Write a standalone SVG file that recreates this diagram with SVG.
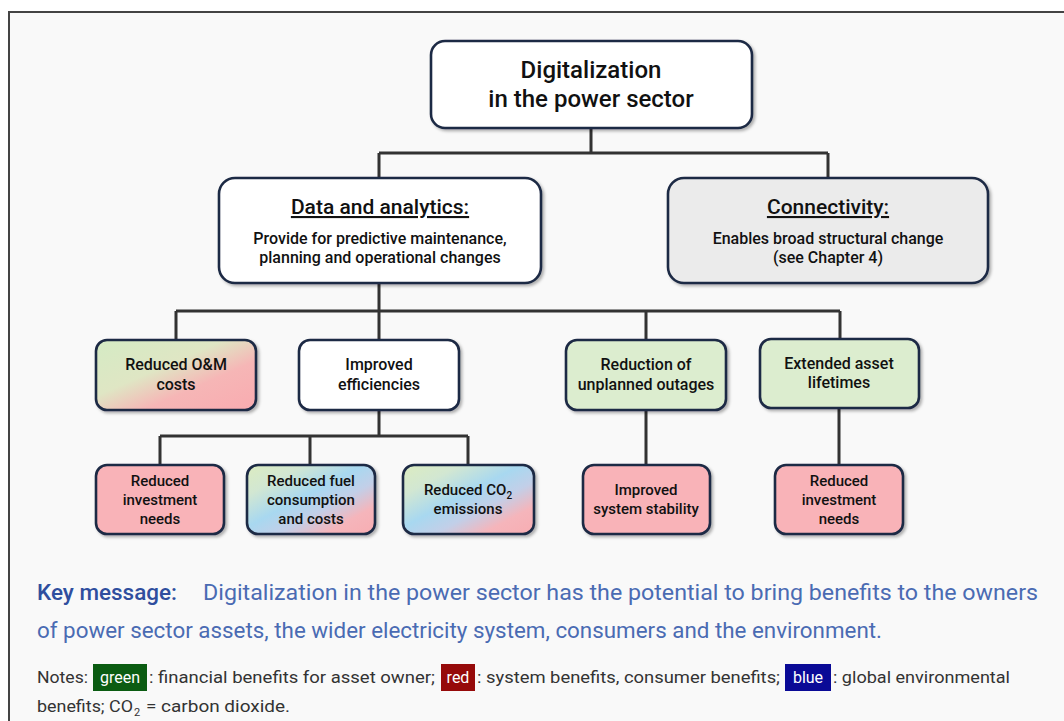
<svg xmlns="http://www.w3.org/2000/svg" width="1064" height="721" viewBox="0 0 1064 721">
<defs>
<style>
.nd{stroke:#1f2a44;stroke-width:2.6;filter:url(#sh)}
.t{font-family:"Roboto","Liberation Sans",sans-serif;fill:#111;text-anchor:middle;font-weight:500}
.lg{font-size:24px}
.hd{font-size:21px;text-decoration:underline}
.md{font-size:16px}
.sm{font-size:15px}
.cn{fill:none;stroke:#333;stroke-width:3}
.km{font-family:"Roboto","Liberation Sans",sans-serif;font-size:22px;fill:#4a6bb3}
.nt{font-family:"Roboto","Liberation Sans",sans-serif;font-size:16px;fill:#333}
</style>
<filter id="sh" x="-10%" y="-10%" width="125%" height="130%">
<feDropShadow dx="2" dy="2" stdDeviation="1.5" flood-color="#000" flood-opacity="0.3"/>
</filter>
<linearGradient id="gr" x1="0" y1="0" x2="1" y2="1">
<stop offset="0" stop-color="#d4ebc4"/>
<stop offset="0.4" stop-color="#dfe6c4"/>
<stop offset="0.65" stop-color="#f6b6b6"/>
<stop offset="1" stop-color="#f9abb0"/>
</linearGradient>
<linearGradient id="gbr" x1="0" y1="0" x2="1" y2="1">
<stop offset="0" stop-color="#dcecc0"/>
<stop offset="0.22" stop-color="#d2e7d2"/>
<stop offset="0.45" stop-color="#a8d8f0"/>
<stop offset="0.62" stop-color="#c2cfe8"/>
<stop offset="0.8" stop-color="#f5b5bb"/>
<stop offset="1" stop-color="#f8adb2"/>
</linearGradient>
</defs>
<rect x="0" y="0" width="1064" height="721" fill="#ffffff"/>
<rect x="9" y="12" width="1070" height="730" fill="#f9f9f9" stroke="#444" stroke-width="2"/>

<g id="connectors">
<path class="cn" d="M591 128 V153 M379 153 H828 M379 153 V178 M828 153 V178"/>
<path class="cn" d="M379 283 V311 M176 311 H840 M176 311 V339 M379 311 V339 M646 311 V339 M840 311 V338"/>
<path class="cn" d="M379 410 V436 M160 436 H468 M160 436 V464 M310 436 V464 M468 436 V464"/>
<path class="cn" d="M646 410 V464 M839 408 V464"/>
</g>

<g id="n-digitalization">
<rect class="nd" x="431" y="41" width="321" height="87" rx="14" fill="#fff"/>
<text class="t lg" x="591" y="78">Digitalization</text>
<text class="t lg" x="591" y="107">in the power sector</text>
</g>
<g id="n-data">
<rect class="nd" x="219" y="178" width="322" height="105" rx="16" fill="#fff"/>
<text class="t hd" x="380" y="214">Data and analytics:</text>
<text class="t md" x="380" y="244">Provide for predictive maintenance,</text>
<text class="t md" x="380" y="263">planning and operational changes</text>
</g>
<g id="n-connectivity">
<rect class="nd" x="668" y="178" width="320" height="105" rx="16" fill="#ebebeb"/>
<text class="t hd" x="828" y="214">Connectivity:</text>
<text class="t md" x="828" y="244">Enables broad structural change</text>
<text class="t md" x="828" y="263">(see Chapter 4)</text>
</g>
<g id="n-om">
<rect class="nd" x="96" y="340" width="160" height="70" rx="11" fill="url(#gr)"/>
<text class="t md" x="176" y="370">Reduced O&amp;M</text>
<text class="t md" x="176" y="390">costs</text>
</g>
<g id="n-efficiencies">
<rect class="nd" x="299" y="340" width="160" height="70" rx="11" fill="#fff"/>
<text class="t md" x="379" y="370">Improved</text>
<text class="t md" x="379" y="390">efficiencies</text>
</g>
<g id="n-outages">
<rect class="nd" x="566" y="340" width="160" height="70" rx="11" fill="#dcedcf"/>
<text class="t md" x="646" y="370">Reduction of</text>
<text class="t md" x="646" y="390">unplanned outages</text>
</g>
<g id="n-lifetimes">
<rect class="nd" x="760" y="339" width="159" height="69" rx="11" fill="#dcedcf"/>
<text class="t md" x="839" y="369">Extended asset</text>
<text class="t md" x="839" y="388">lifetimes</text>
</g>
<g id="n-investment1">
<rect class="nd" x="96" y="465" width="128" height="69" rx="11" fill="#f9b3b8"/>
<text class="t sm" x="160" y="486">Reduced</text>
<text class="t sm" x="160" y="505">investment</text>
<text class="t sm" x="160" y="524">needs</text>
</g>
<g id="n-fuel">
<rect class="nd" x="247" y="465" width="128" height="69" rx="11" fill="url(#gbr)"/>
<text class="t sm" x="311" y="486">Reduced fuel</text>
<text class="t sm" x="311" y="505">consumption</text>
<text class="t sm" x="311" y="524">and costs</text>
</g>
<g id="n-co2">
<rect class="nd" x="403" y="465" width="131" height="69" rx="11" fill="url(#gbr)"/>
<text class="t sm" x="468" y="495">Reduced CO<tspan font-size="10" dy="4">2</tspan></text>
<text class="t sm" x="468" y="514">emissions</text>
</g>
<g id="n-stability">
<rect class="nd" x="583" y="465" width="127" height="69" rx="11" fill="#f9b3b8"/>
<text class="t sm" x="646" y="495">Improved</text>
<text class="t sm" x="646" y="514">system stability</text>
</g>
<g id="n-investment2">
<rect class="nd" x="775" y="465" width="128" height="69" rx="11" fill="#f9b3b8"/>
<text class="t sm" x="839" y="486">Reduced</text>
<text class="t sm" x="839" y="505">investment</text>
<text class="t sm" x="839" y="524">needs</text>
</g>

<g id="key-message">
<text class="km" x="37" y="600" style="fill:#2f4e9e;font-weight:500" textLength="140" lengthAdjust="spacingAndGlyphs">Key message:</text>
<text class="km" x="203" y="600" textLength="835" lengthAdjust="spacingAndGlyphs">Digitalization in the power sector has the potential to bring benefits to the owners</text>
<text class="km" x="37" y="638" textLength="845" lengthAdjust="spacingAndGlyphs">of power sector assets, the wider electricity system, consumers and the environment.</text>
</g>

<g id="notes">
<text class="nt" x="37" y="683" textLength="51" lengthAdjust="spacingAndGlyphs">Notes:</text>
<rect x="93" y="664" width="54" height="27" fill="#0b5c12"/>
<text class="nt" x="120" y="683" text-anchor="middle" style="fill:#fff">green</text>
<text class="nt" x="149" y="683" textLength="286" lengthAdjust="spacingAndGlyphs">: financial benefits for asset owner;</text>
<rect x="441" y="664" width="34" height="27" fill="#960a0a"/>
<text class="nt" x="458" y="683" text-anchor="middle" style="fill:#fff">red</text>
<text class="nt" x="477" y="683" textLength="303" lengthAdjust="spacingAndGlyphs">: system benefits, consumer benefits;</text>
<rect x="785" y="664" width="46" height="27" fill="#0a0a96"/>
<text class="nt" x="808" y="683" text-anchor="middle" style="fill:#fff">blue</text>
<text class="nt" x="833" y="683" textLength="177" lengthAdjust="spacingAndGlyphs">: global environmental</text>
<text class="nt" x="37" y="712" textLength="96" lengthAdjust="spacingAndGlyphs">benefits; CO</text>
<text class="nt" x="134" y="716" style="font-size:11px">2</text>
<text class="nt" x="146" y="712" textLength="144" lengthAdjust="spacingAndGlyphs">= carbon dioxide.</text>
</g>
</svg>
